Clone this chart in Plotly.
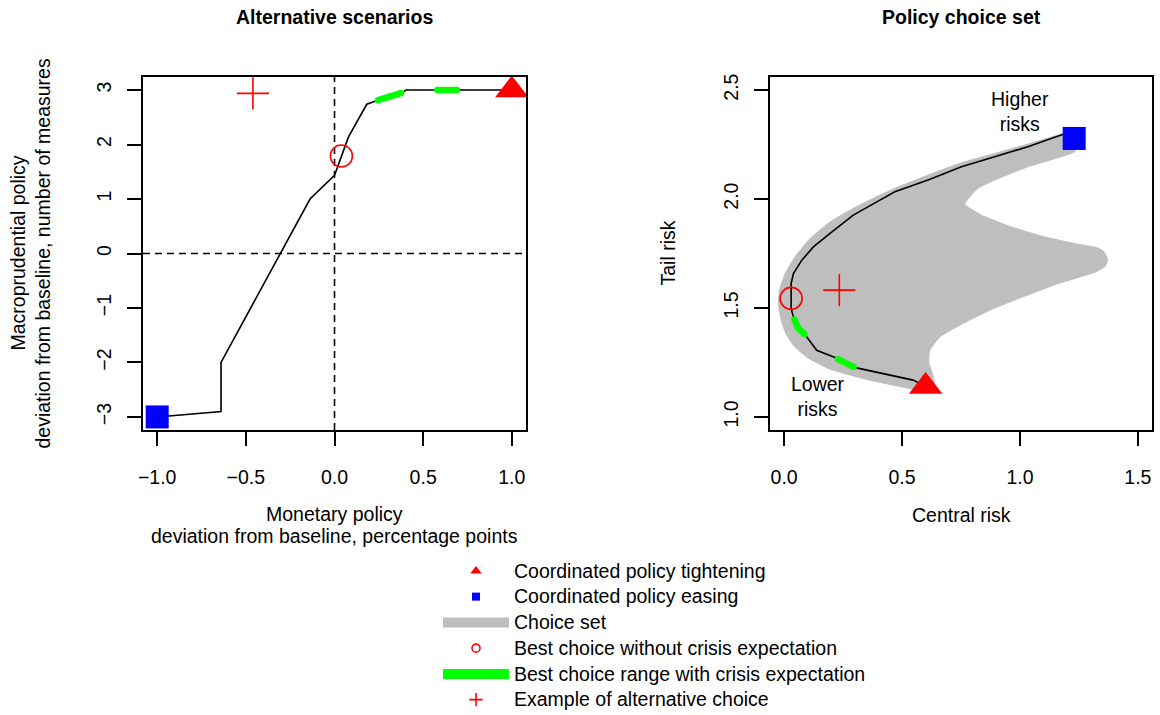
import plotly.graph_objects as go

FONT = "Liberation Sans, Arial, Helvetica, sans-serif"
FS = 19.5
W, H = 1160, 715

# ---------------- Left panel: alternative scenarios ----------------
scen_mon = [-1.0, -0.64, -0.64, -0.138, 0.0, 0.079, 0.182, 0.24, 0.38, 0.404, 1.0]
scen_mac = [-3.0, -2.9, -2.0, 1.0, 1.435, 2.14, 2.74, 2.81, 2.95, 3.0, 3.0]
scen_green1_mon = [0.245, 0.375]
scen_green1_mac = [2.815, 2.945]
scen_green2_mon = [0.58, 0.69]
scen_green2_mac = [3.0, 3.0]
scen_tight = [1.0, 3.0]
scen_ease = [-1.0, -3.0]
scen_best = [0.039, 1.79]
scen_alt = [-0.46, 2.94]

# ---------------- Right panel: policy choice set ----------------
frontier_central = [0.60, 0.547, 0.3075, 0.2157, 0.138, 0.096, 0.0393, 0.0296, 0.0296, 0.0393,
                    0.0749, 0.124, 0.1946, 0.2931, 0.4061, 0.4695, 0.6104, 0.7517, 0.8926,
                    1.0334, 1.1747, 1.227]
frontier_tail = [1.14, 1.169, 1.225, 1.273, 1.306, 1.367, 1.459, 1.498, 1.6125, 1.658,
                 1.7195, 1.7805, 1.842, 1.926, 1.995, 2.033, 2.087, 2.148, 2.194,
                 2.240, 2.2934, 2.31]
set_central = [1.2183, 1.1747, 1.0334, 0.8926, 0.7517, 0.6104, 0.4695, 0.4061, 0.2931, 0.1946,
               0.110, 0.0465, 0.0042, -0.0199, -0.0241, -0.0127, 0.0085, 0.0423, 0.096, 0.1946,
               0.3638, 0.533, 0.5964, 0.6387, 0.6303, 0.6134, 0.6176, 0.660, 0.7305, 0.8714,
               1.0123, 1.1536, 1.3228, 1.3621, 1.3718, 1.3536, 1.3295, 1.2449, 1.1041, 0.9632,
               0.8363, 0.7657, 0.8219, 0.8926, 1.0334, 1.1747, 1.2310, 1.2521, 1.2183]
set_tail = [2.3163, 2.298, 2.252, 2.209, 2.166, 2.110, 2.049, 2.018, 1.957, 1.895,
            1.819, 1.735, 1.658, 1.582, 1.521, 1.444, 1.380, 1.325, 1.274, 1.219,
            1.1685, 1.130, 1.109, 1.1455, 1.1915, 1.251, 1.306, 1.367, 1.413, 1.490,
            1.551, 1.609, 1.666, 1.692, 1.724, 1.761, 1.776, 1.793, 1.826, 1.872,
            1.926, 1.977, 2.049, 2.087, 2.148, 2.194, 2.217, 2.266, 2.3163]
green1_central = [0.044, 0.058, 0.086]
green1_tail = [1.447, 1.41, 1.38]
green2_central = [0.228, 0.294]
green2_tail = [1.265, 1.230]
choice_tight = [0.60, 1.14]
choice_ease = [1.23, 2.278]
choice_best = [0.0296, 1.544]
choice_alt = [0.234, 1.582]

higher_label = [1.0, 2.40]
lower_label = [0.145, 1.092]

legend_labels = ["Coordinated policy tightening", "Coordinated policy easing", "Choice set",
                 "Best choice without crisis expectation",
                 "Best choice range with crisis expectation", "Example of alternative choice"]

RED, BLUE, GREEN, GREY = "#FF0000", "#0000FF", "#00FF00", "#BEBEBE"
GW = 6.5

fig = go.Figure()


def add_panel(xa, ya, line_x, line_y, greens, tight, ease, best, alt, poly=None):
    if poly is not None:
        fig.add_trace(go.Scatter(x=poly[0], y=poly[1], mode="lines", fill="toself",
                                 fillcolor=GREY, line=dict(color=GREY, width=1, shape="spline", smoothing=0.4),
                                 xaxis=xa, yaxis=ya, showlegend=False, hoverinfo="skip"))
    fig.add_trace(go.Scatter(x=line_x, y=line_y, mode="lines", line=dict(color="black", width=1.6),
                             xaxis=xa, yaxis=ya, showlegend=False))
    for gx, gy in greens:
        fig.add_trace(go.Scatter(x=gx, y=gy, mode="lines+markers",
                                 line=dict(color=GREEN, width=GW),
                                 marker=dict(color=GREEN, size=GW, symbol="circle"),
                                 xaxis=xa, yaxis=ya, showlegend=False))
    fig.add_trace(go.Scatter(x=[tight[0]], y=[tight[1]], mode="markers",
                             marker=dict(symbol="triangle-up", size=29, color=RED),
                             xaxis=xa, yaxis=ya, showlegend=False))
    fig.add_trace(go.Scatter(x=[ease[0]], y=[ease[1]], mode="markers",
                             marker=dict(symbol="square", size=23, color=BLUE),
                             xaxis=xa, yaxis=ya, showlegend=False))
    fig.add_trace(go.Scatter(x=[best[0]], y=[best[1]], mode="markers",
                             marker=dict(symbol="circle-open", size=22, color=RED, line=dict(width=1.6, color=RED)),
                             xaxis=xa, yaxis=ya, showlegend=False))
    fig.add_trace(go.Scatter(x=[alt[0]], y=[alt[1]], mode="markers",
                             marker=dict(symbol="cross-thin-open", size=23, color=RED, line=dict(width=1.6, color=RED)),
                             xaxis=xa, yaxis=ya, showlegend=False))


add_panel("x", "y", scen_mon, scen_mac,
          [(scen_green1_mon, scen_green1_mac), (scen_green2_mon, scen_green2_mac)],
          scen_tight, scen_ease, scen_best, scen_alt)
add_panel("x2", "y2", frontier_central, frontier_tail,
          [(green1_central, green1_tail), (green2_central, green2_tail)],
          choice_tight, choice_ease, choice_best, choice_alt, poly=(set_central, set_tail))


def lname(s):
    return f"<span style='font-size:{FS}px'>{s}</span>"


# legend entries
fig.add_trace(go.Scatter(x=[None], y=[None], mode="markers", name=lname(legend_labels[0]),
                         marker=dict(symbol="triangle-up", size=10, color=RED)))
fig.add_trace(go.Scatter(x=[None], y=[None], mode="markers", name=lname(legend_labels[1]),
                         marker=dict(symbol="square", size=8, color=BLUE)))
fig.add_trace(go.Scatter(x=[None], y=[None], mode="lines", name=lname(legend_labels[2]),
                         line=dict(color=GREY, width=14)))
fig.add_trace(go.Scatter(x=[None], y=[None], mode="markers", name=lname(legend_labels[3]),
                         marker=dict(symbol="circle-open", size=8, color=RED, line=dict(width=1.6, color=RED))))
fig.add_trace(go.Scatter(x=[None], y=[None], mode="lines", name=lname(legend_labels[4]),
                         line=dict(color=GREEN, width=14)))
fig.add_trace(go.Scatter(x=[None], y=[None], mode="markers", name=lname(legend_labels[5]),
                         marker=dict(symbol="cross-thin-open", size=9.5, color=RED, line=dict(width=1.6, color=RED))))

# dashed reference lines (left panel)
fig.add_shape(type="line", xref="x", yref="y domain", x0=0, x1=0, y0=0, y1=1,
              line=dict(color="black", width=1.6, dash="7px,5px"), layer="below")
fig.add_shape(type="line", xref="x domain", yref="y", x0=0, x1=1, y0=0, y1=0,
              line=dict(color="black", width=1.6, dash="7px,5px"), layer="below")

dom_l = [143 / W, 526 / W]
dom_r = [770 / W, 1152 / W]
dom_y = [1 - 430 / H, 1 - 77 / H]

axis_common = dict(showline=True, mirror=True, linecolor="black", linewidth=1.5,
                   ticks="outside", ticklen=14, tickwidth=1.5, tickcolor="black",
                   showgrid=False, zeroline=False, automargin=False,
                   tickfont=dict(family=FONT, size=FS, color="black"))

fig.update_layout(
    width=W, height=H, margin=dict(l=0, r=0, t=0, b=0, autoexpand=False),
    paper_bgcolor="white", plot_bgcolor="white",
    font=dict(family=FONT, size=FS, color="black"),
    xaxis=dict(domain=dom_l, range=[-1.08, 1.08], tickvals=[-1, -0.5, 0, 0.5, 1], tickformat=".1f",
               anchor="y", ticklabelstandoff=15, **axis_common),
    yaxis=dict(domain=dom_y, range=[-3.24, 3.24], tickvals=[-3, -2, -1, 0, 1, 2, 3], tickangle=-90,
               anchor="x", ticklabelstandoff=8, **axis_common),
    xaxis2=dict(domain=dom_r, range=[-0.06, 1.56], tickvals=[0, 0.5, 1, 1.5], tickformat=".1f",
                anchor="y2", ticklabelstandoff=15, **axis_common),
    yaxis2=dict(domain=dom_y, range=[0.94, 2.56], tickvals=[1, 1.5, 2, 2.5], tickformat=".1f", tickangle=-90,
                anchor="x2", ticklabelstandoff=8, **axis_common),
    legend=dict(x=438 / W, y=1 - 553 / H, xanchor="left", yanchor="top",
                font=dict(family=FONT, size=17.5, color="black"), itemwidth=66,
                bgcolor="rgba(0,0,0,0)", tracegroupgap=0),
    showlegend=True,
)

cx_l = (dom_l[0] + dom_l[1]) / 2
cx_r = (dom_r[0] + dom_r[1]) / 2
cy = (dom_y[0] + dom_y[1]) / 2


def ann(text, x, y, angle=0, bold=False, xref="paper", yref="paper"):
    fig.add_annotation(text=f"<b>{text}</b>" if bold else text, x=x, y=y, xref=xref, yref=yref,
                       showarrow=False, textangle=angle, xanchor="center", yanchor="middle",
                       font=dict(family=FONT, size=FS, color="black"))


ann("Alternative scenarios", cx_l, 1 - 17 / H, bold=True)
ann("Policy choice set", cx_r, 1 - 17 / H, bold=True)
ann("Monetary policy", cx_l, 1 - 514 / H)
ann("deviation from baseline, percentage points", cx_l, 1 - 536 / H)
ann("Macroprudential policy", 18 / W, cy, angle=-90)
ann("deviation from baseline, number of measures", 43 / W, cy, angle=-90)
ann("Central risk", cx_r, 1 - 515 / H)
ann("Tail risk", 668 / W, cy, angle=-90)
ann("Higher<br>risks", higher_label[0], higher_label[1], xref="x2", yref="y2")
ann("Lower<br>risks", lower_label[0], lower_label[1], xref="x2", yref="y2")

fig.write_html("out.html", config={"displayModeBar": False},
               post_script="document.body.style.margin='0';document.body.style.overflow='hidden';")
